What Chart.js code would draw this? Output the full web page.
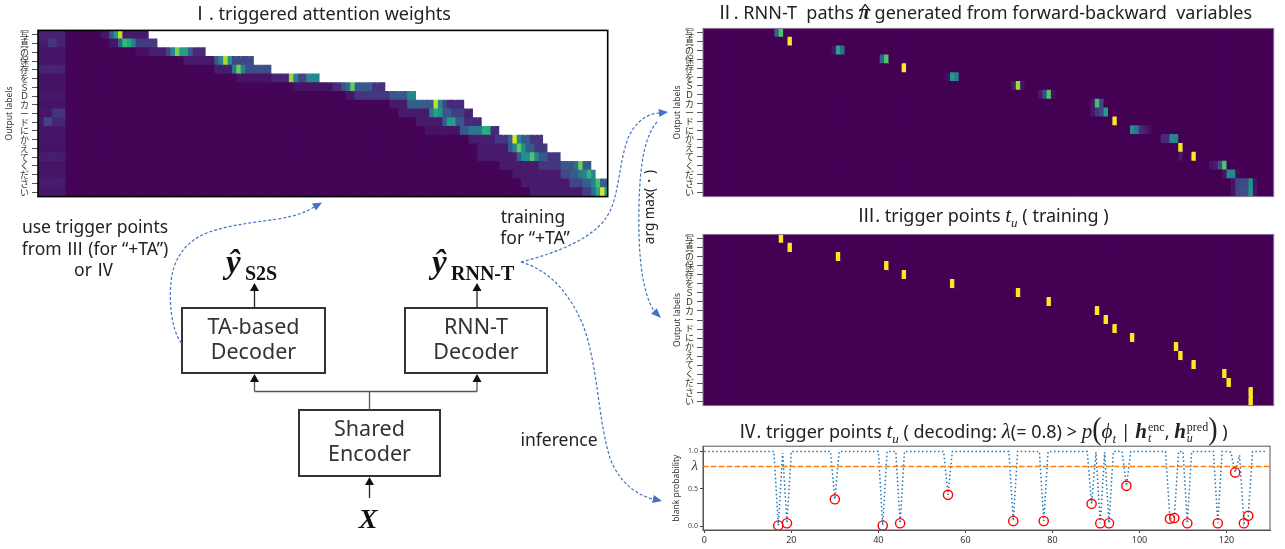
<!DOCTYPE html>
<html><head><meta charset="utf-8">
<script src="https://cdn.jsdelivr.net/npm/chart.js@4.4.1/dist/chart.umd.min.js"></script>
<style>
html,body{margin:0;padding:0;background:#fff;}
#root{position:relative;width:1285px;height:549px;overflow:hidden;font-family:"Noto Sans","Noto Sans CJK JP",sans-serif;color:#222;}
canvas.c{position:absolute;}
.title{position:absolute;transform:translate(-50%,-50%);font-size:18px;white-space:nowrap;line-height:1;color:#222;}
.rn{font-family:"Noto Sans CJK JP";}
.m{font-family:"Liberation Serif","DejaVu Serif",serif;font-style:italic;font-size:21px;}
.bm{font-family:"Liberation Serif","DejaVu Serif",serif;font-style:italic;font-weight:bold;font-size:21px;}
.hatw{position:relative;display:inline-block;}
.hatc{position:absolute;left:2px;top:0px;font-style:normal;font-weight:bold;font-size:15px;line-height:15px;display:inline-block;transform:scaleX(1.6);}
.big{font-family:"Liberation Serif",serif;font-size:28px;display:inline-block;transform:scaleY(1.15);}
.ss{display:inline-flex;flex-direction:column;vertical-align:middle;font-family:"Liberation Serif",serif;font-size:12px;line-height:11px;margin-left:1px;}
sub.m{font-size:13px;}
svg{position:absolute;left:0;top:0;}
</style></head><body><div id="root">
<canvas id="hmAttn" class="c" style="left:0;top:22px" width="612" height="183"></canvas>
<canvas id="hmPath" class="c" style="left:668px;top:20px" width="608" height="185"></canvas>
<canvas id="hmTrig" class="c" style="left:668px;top:226px" width="608" height="188"></canvas>
<canvas id="blank" class="c" style="left:668px;top:440px" width="608" height="109"></canvas>

<div class="title" style="left:321px;top:12px"><span class="rn">Ⅰ</span>. triggered attention weights</div>
<div class="title" style="left:984px;top:12px"><span class="rn">Ⅱ</span>. RNN-T&nbsp; paths <span class="bm hatw">π<span class="hatc">^</span></span> generated from forward-backward&nbsp; variables</div>
<div class="title" style="left:983px;top:217px"><span class="rn">Ⅲ</span>. trigger points <span class="m">t<sub class="m">u</sub></span> ( training )</div>
<div class="title" style="left:983px;top:430px"><span class="rn">Ⅳ</span>. trigger points <span class="m">t<sub class="m">u</sub></span> ( decoding: <span class="m">λ</span>(= 0.8) &gt; <span class="m">p</span><span class="big">(</span><span class="m">ϕ<sub class="m">t</sub></span> | <span class="bm">h</span><span class="ss"><span>enc</span><span style="font-style:italic">t</span></span>, <span class="bm">h</span><span class="ss"><span>pred</span><span style="font-style:italic">u</span></span><span class="big">)</span> )</div>

<svg id="diag" width="1285" height="549" xmlns="http://www.w3.org/2000/svg">
  <g font-family="Noto Sans, sans-serif" fill="#222" text-anchor="middle" font-size="17.5">
    <text x="95" y="232.5">use trigger points</text>
    <text x="95" y="255">from <tspan font-family="Noto Sans CJK JP">Ⅲ</tspan> (for “+TA”)</text>
    <text x="94" y="276">or <tspan font-family="Noto Sans CJK JP">Ⅳ</tspan></text>
    <text x="533" y="222.5">training</text>
    <text x="535" y="243.5">for “+TA”</text>
    <text x="559" y="446">inference</text>
  </g>
  <g fill="none" stroke="#333" stroke-width="2">
    <rect x="182" y="308" width="143" height="65"/>
    <rect x="405" y="308" width="142" height="65"/>
    <rect x="299" y="410" width="141" height="66"/>
  </g>
  <g font-family="Noto Sans, sans-serif" fill="#333" text-anchor="middle" font-size="21.5">
    <text x="253.5" y="334">TA-based</text>
    <text x="253.5" y="359">Decoder</text>
    <text x="476" y="334">RNN-T</text>
    <text x="476" y="359">Decoder</text>
    <text x="369.5" y="435.5">Shared</text>
    <text x="369.5" y="460.5">Encoder</text>
  </g>
  <g stroke="#555" stroke-width="1.3" fill="none">
    <line x1="369.5" y1="410" x2="369.5" y2="391.5"/>
    <line x1="254.5" y1="391.5" x2="477" y2="391.5"/>
    <line x1="254.5" y1="391.5" x2="254.5" y2="380"/>
    <line x1="477" y1="391.5" x2="477" y2="380"/>
  </g>
  <g stroke="#222" stroke-width="1.3" fill="none">
    <line x1="254.5" y1="308" x2="254.5" y2="290"/>
    <line x1="477" y1="308" x2="477" y2="290"/>
    <line x1="369.5" y1="498" x2="369.5" y2="482"/>
  </g>
  <g font-family="Liberation Serif, serif" font-weight="bold" fill="#111">
    <text x="226" y="273" font-size="33" font-style="italic">ŷ</text>
    <text x="245" y="280" font-size="20">S2S</text>
    <text x="432" y="273" font-size="33" font-style="italic">ŷ</text>
    <text x="451" y="280" font-size="20">RNN-T</text>
    <text x="368" y="528" font-size="28" font-style="italic" text-anchor="middle">X</text>
  </g>
  <g id="curves" fill="none" stroke="#4472c4" stroke-width="1.2" stroke-dasharray="3 2"></g>
  <g id="heads"></g>
  <text x="0" y="0" font-family="Noto Sans, sans-serif" font-size="13.5" fill="#222" text-anchor="middle" transform="translate(654 207) rotate(-90)">arg max(・)</text>
</svg>
</div>
<script>
// ---------------- data ----------------
const numFrames = 130;
const outputLabels = ['写','真','の','保','存','を','Ｓ','Ｄ','カ','ー','ド','に','か','え','て','く','だ','さ','い'];

// I. triggered attention weights: last visible frame per output label (frames beyond are masked)
const attnWindowEnd = [24,26,37,48,52,63,78,85,96,98,100,104,114,115,118,125,126,129,129];
const attnBackground = 0.01;
// [firstFrame, lastFrame, weight] runs
const attnSegments = [
  [[0,5,0.09],[14,15,0.06],[16,16,0.28],[17,17,0.52],[18,18,0.9],[19,24,0.07]],
  [[0,1,0.08],[2,3,0.16],[4,5,0.09],[16,17,0.06],[18,18,0.3],[19,19,0.66],[20,20,0.6],[21,21,0.42],[22,26,0.17]],
  [[0,5,0.06],[22,24,0.04],[25,28,0.08],[29,29,0.22],[30,30,0.45],[31,31,0.8],[32,33,0.55],[34,34,0.28],[35,37,0.12]],
  [[0,5,0.06],[33,39,0.07],[40,40,0.28],[41,41,0.45],[42,42,0.88],[43,43,0.5],[44,48,0.22]],
  [[0,5,0.1],[40,43,0.08],[44,44,0.4],[45,45,0.78],[46,46,0.45],[47,52,0.24]],
  [[0,5,0.05],[45,52,0.05],[53,56,0.1],[57,57,0.85],[58,58,0.45],[59,60,0.22],[61,63,0.47]],
  [[0,5,0.05],[58,66,0.05],[67,68,0.12],[69,69,0.26],[70,70,0.34],[71,71,0.75],[72,75,0.28],[76,78,0.14]],
  [[0,5,0.06],[70,71,0.06],[72,79,0.16],[80,83,0.27],[84,85,0.45]],
  [[0,5,0.05],[80,83,0.07],[84,87,0.3],[88,89,0.28],[90,90,0.9],[91,91,0.45],[92,92,0.22],[93,96,0.12]],
  [[0,2,0.06],[3,5,0.15],[82,88,0.07],[89,89,0.4],[90,90,0.58],[91,91,0.5],[92,93,0.28],[94,96,0.18],[97,98,0.09]],
  [[0,0,0.06],[1,2,0.2],[3,5,0.1],[86,91,0.07],[92,92,0.28],[93,94,0.55],[95,96,0.28],[97,100,0.12]],
  [[0,5,0.06],[88,95,0.05],[96,97,0.28],[98,100,0.4],[101,102,0.62],[103,104,0.12]],
  [[0,5,0.06],[98,103,0.08],[104,106,0.16],[107,107,0.3],[108,108,0.95],[109,109,0.45],[110,111,0.28],[112,114,0.15]],
  [[0,5,0.05],[100,106,0.07],[107,107,0.28],[108,108,0.45],[109,109,0.75],[110,110,0.5],[111,112,0.28],[113,115,0.16]],
  [[0,5,0.08],[100,108,0.07],[109,109,0.28],[110,111,0.5],[112,112,0.72],[113,113,0.45],[114,115,0.28],[116,118,0.16]],
  [[0,5,0.05],[105,113,0.07],[114,118,0.16],[119,121,0.27],[122,122,0.36],[123,123,0.78],[124,125,0.28]],
  [[0,5,0.06],[108,118,0.07],[119,120,0.22],[121,122,0.28],[123,123,0.4],[124,124,0.45],[125,125,0.65],[126,126,0.45]],
  [[0,5,0.08],[110,120,0.07],[121,123,0.2],[124,125,0.3],[126,126,0.45],[127,127,0.7],[128,129,0.3]],
  [[0,5,0.06],[112,123,0.07],[124,125,0.18],[126,126,0.35],[127,127,0.6],[128,128,0.95],[129,129,0.55]]
];

// II. RNN-T path occupancy: [frame, value] per output label (all other cells 0)
const pathCells = [
  [[16,0.3],[17,0.72]],
  [[19,1.0]],
  [[29,0.05],[30,0.58],[31,0.36]],
  [[40,0.3],[41,0.72]],
  [[45,1.0]],
  [[55,0.03],[56,0.52],[57,0.42]],
  [[70,0.08],[71,0.86],[72,0.05]],
  [[76,0.06],[77,0.22],[78,0.72],[79,0.04]],
  [[88,0.06],[89,0.7],[90,0.2]],
  [[88,0.06],[89,0.14],[90,0.22],[91,0.55]],
  [[93,1.0]],
  [[97,0.48],[98,0.4],[99,0.12],[100,0.08],[101,0.03]],
  [[104,0.12],[105,0.12],[106,0.45],[107,0.45]],
  [[108,0.98]],
  [[108,0.06],[111,1.0]],
  [[115,0.05],[116,0.08],[117,0.25],[118,0.72]],
  [[118,0.05],[119,0.47],[120,0.47],[121,0.03]],
  [[120,0.05],[121,0.2],[122,0.22],[123,0.22],[124,0.5],[125,0.05]],
  [[120,0.05],[121,0.2],[122,0.24],[123,0.24],[124,0.52],[125,0.06]]
];

// III. training trigger frame per output label
const trainTriggers = [17,19,30,41,45,56,71,78,89,91,93,97,107,108,111,118,119,124,124];

// IV. blank probability per frame (0..129)
const blankProb = [
  1,1,1,1,1,1,1,1,1,1,
  1,1,1,1,1,1,1,0.01,0.98,0.04,
  1,1,1,1,1,1,1,1,1,1,
  0.36,1,1,1,1,1,1,1,1,1,
  1,0.01,1,1,1,0.04,1,1,1,1,
  1,1,1,1,1,1,0.42,1,1,1,
  1,1,1,1,1,1,1,1,1,1,
  1,0.07,1,1,1,1,1,1,0.07,1,
  1,1,1,1,1,1,1,1,1,0.30,
  0.99,0.04,0.99,0.04,1,1,1,0.54,1,1,
  1,1,1,1,1,1,1,0.10,0.11,1,
  1,0.04,1,1,1,1,1,1,0.04,1,
  1,0.99,0.72,0.95,0.04,0.14,1,1,1,1
];
const decodeTriggers = [17,19,30,41,45,56,71,78,89,91,93,97,107,108,111,118,122,124,125];
const lambdaThreshold = 0.8;
const blankTickValues = [0, 0.5, 0.8, 1.0];
const blankTickLabels = ['0.0', '0.5', 'λ', '1.0'];
const frameTickValues = [0, 20, 40, 60, 80, 100, 120];

// ---------------- helpers ----------------
Chart.defaults.font.family = "'Noto Sans','Noto Sans CJK JP',sans-serif";
const VIR = ['#440154','#482475','#414487','#355f8d','#2a788e','#21918c','#22a884','#44bf70','#7ad151','#bddf26','#fde725'];
function hx(h){return [parseInt(h.slice(1,3),16),parseInt(h.slice(3,5),16),parseInt(h.slice(5,7),16)];}
function viridis(v){
  v = Math.max(0, Math.min(1, v));
  const p = v*10, i = Math.min(9, Math.floor(p)), f = p - i;
  const a = hx(VIR[i]), b = hx(VIR[i+1]);
  return 'rgb(' + a.map((c,k)=>Math.round(c + (b[k]-c)*f)).join(',') + ')';
}
const CJK = "'Noto Sans CJK JP',sans-serif";

const attnGrid = outputLabels.map((_, u) => {
  const row = [];
  for (let t = 0; t < numFrames; t++) row.push(t > attnWindowEnd[u] ? null : attnBackground);
  attnSegments[u].forEach(([a, b, v]) => { for (let t = a; t <= b; t++) if (row[t] !== null) row[t] = v; });
  return row;
});
const pathGrid = outputLabels.map((_, u) => {
  const row = new Array(numFrames).fill(0);
  pathCells[u].forEach(([t, v]) => { row[t] = v; });
  return row;
});
const trigGrid = outputLabels.map((_, u) => {
  const row = new Array(numFrames).fill(0);
  row[trainTriggers[u]] = 1;
  return row;
});

function heatDatasets(grid){
  const ds = [];
  for (let t = 0; t < numFrames; t++) {
    ds.push({
      data: grid.map(() => [t - 0.5, t + 0.75]),
      backgroundColor: grid.map(r => r[t] === null ? '#ffffff' : viridis(r[t])),
      borderWidth: 0, grouped: false, barPercentage: 1.12, categoryPercentage: 1
    });
  }
  return ds;
}
const framePlugin = {
  id: 'frame',
  beforeDatasetsDraw(chart, args, opts){
    if (!opts.fill) return;
    const a = chart.chartArea, c = chart.ctx;
    c.save(); c.fillStyle = opts.fill; c.fillRect(a.left, a.top, a.right - a.left, a.bottom - a.top); c.restore();
  },
  afterDraw(chart, args, opts){
    const a = chart.chartArea, c = chart.ctx;
    c.save(); c.strokeStyle = opts.color; c.lineWidth = opts.width;
    c.strokeRect(a.left, a.top, a.right - a.left, a.bottom - a.top); c.restore();
  }
};
function heatChart(id, grid, pad, yW, frameOpts){
  return new Chart(document.getElementById(id), {
    type: 'bar',
    data: { labels: outputLabels, datasets: heatDatasets(grid) },
    plugins: [framePlugin],
    options: {
      indexAxis: 'y', responsive: false, animation: false, events: [],
      layout: { padding: pad },
      plugins: { legend: { display: false }, tooltip: { enabled: false }, frame: frameOpts },
      scales: {
        x: { type: 'linear', min: -0.5, max: numFrames - 0.5, display: false },
        y: {
          type: 'category', offset: true,
          grid: { offset: false, drawOnChartArea: false, drawTicks: true, tickLength: 6, color: '#555' },
          border: { display: false },
          ticks: { autoSkip: false, minRotation: 0, maxRotation: 0, font: { family: CJK, size: 9 }, color: '#333', padding: 3 },
          title: { display: true, text: 'Output labels', font: { size: 8.5 }, color: '#333', padding: { top: 4, bottom: 0 } },
          afterFit(s){ s.width = yW; }
        }
      }
    }
  });
}

heatChart('hmAttn', attnGrid, { top: 2.7, bottom: 3, right: 4.3, left: 0 }, 38, { color: '#000', width: 1.6, fill: viridis(attnBackground) });
heatChart('hmPath', pathGrid, { top: 3, bottom: 2.6, right: 2.3, left: 0 }, 35, { color: '#8f7a9c', width: 1, fill: viridis(0) });
heatChart('hmTrig', trigGrid, { top: 3.3, bottom: 3.3, right: 2.3, left: 0 }, 35, { color: '#8f7a9c', width: 1, fill: viridis(0) });

new Chart(document.getElementById('blank'), {
  type: 'line',
  data: {
    datasets: [
      { data: decodeTriggers.map(t => ({ x: t, y: blankProb[t] })), showLine: false,
        pointRadius: 4.6, pointBorderWidth: 1.4, pointBorderColor: '#ff0000', pointBackgroundColor: 'rgba(0,0,0,0)', order: 0 },
      { data: blankProb.map((p, t) => ({ x: t, y: p })), borderColor: '#1f77b4', borderWidth: 1.5,
        borderDash: [1.5, 2.5], pointRadius: 0, tension: 0, fill: false, order: 2 },
      { data: [{ x: -0.3, y: lambdaThreshold }, { x: 130, y: lambdaThreshold }], borderColor: '#ff7f0e',
        borderWidth: 1.5, borderDash: [5.5, 2.4], pointRadius: 0, fill: false, order: 1 }
    ]
  },
  plugins: [framePlugin],
  options: {
    responsive: false, animation: false, events: [],
    layout: { padding: { top: 5.3, right: 2.7, left: 0, bottom: 0 } },
    plugins: { legend: { display: false }, tooltip: { enabled: false }, frame: { color: '#555', width: 1 } },
    scales: {
      x: {
        type: 'linear', min: -0.3, max: 130,
        afterBuildTicks(s){ s.ticks = frameTickValues.map(v => ({ value: v })); },
        ticks: { autoSkip: false, maxRotation: 0, font: { size: 9 }, color: '#333', padding: 2 },
        grid: { drawOnChartArea: false, tickLength: 3, color: '#444' },
        border: { color: '#555' },
        afterFit(s){ s.height = 19; }
      },
      y: {
        min: -0.05, max: 1.07,
        afterBuildTicks(s){ s.ticks = blankTickValues.map(v => ({ value: v })); },
        ticks: {
          autoSkip: false, padding: 2, color: '#444',
          callback: (v, i) => blankTickLabels[i],
          font: ctx => (ctx.tick && ctx.tick.value === lambdaThreshold)
            ? { family: "'Liberation Serif',serif", style: 'italic', size: 15 }
            : { size: 7 }
        },
        grid: { drawOnChartArea: false, tickLength: 3,
          color: ctx => (ctx.tick && ctx.tick.value === lambdaThreshold) ? 'rgba(0,0,0,0)' : '#444' },
        border: { color: '#555' },
        title: { display: true, text: 'blank probability', font: { size: 8.5 }, color: '#333', padding: { top: 3, bottom: 0 } },
        afterFit(s){ s.width = 35; }
      }
    }
  }
});

// ---------------- diagram curves ----------------
const NS = 'http://www.w3.org/2000/svg';
function curve(d, tip, color){
  const p = document.createElementNS(NS, 'path');
  p.setAttribute('d', d);
  document.getElementById('curves').appendChild(p);
  const nums = d.match(/-?\d+(\.\d+)?/g).map(Number);
  const ex = nums[nums.length - 2], ey = nums[nums.length - 1];
  head(ex, ey, tip[0], tip[1], color || '#4472c4', 4);
}
function head(bx, by, tx, ty, color, hw){
  const dx = tx - bx, dy = ty - by, L = Math.hypot(dx, dy), nx = -dy / L, ny = dx / L;
  const poly = document.createElementNS(NS, 'polygon');
  poly.setAttribute('points', `${tx},${ty} ${bx + nx*hw},${by + ny*hw} ${bx - nx*hw},${by - ny*hw}`);
  poly.setAttribute('fill', color);
  document.getElementById('heads').appendChild(poly);
}
curve('M181.5,343 C171,330 169,300 171,282 C173,262 182,246 200,236 C220,226 250,223 278,219 C296,216 306,212 314,207', [322, 202.5]);
curve('M521,262 C560,252 592,238 606,218 C620,198 618,162 629,136 C637,120 648,114 659,113', [668, 112]);
curve('M657,122 C645,136 640,162 639,205 C638,250 641,290 654,311', [661, 318]);
curve('M521,262 C548,270 568,290 583,325 C598,365 598,420 610,458 C620,485 640,496 653,499', [662, 501]);
head(254.5, 291, 254.5, 283, '#111', 4.5);
head(477, 291, 477, 283, '#111', 4.5);
head(254.5, 382, 254.5, 374, '#111', 4.5);
head(477, 382, 477, 374, '#111', 4.5);
head(369.5, 485, 369.5, 477, '#111', 4.5);
</script>
</body></html>
